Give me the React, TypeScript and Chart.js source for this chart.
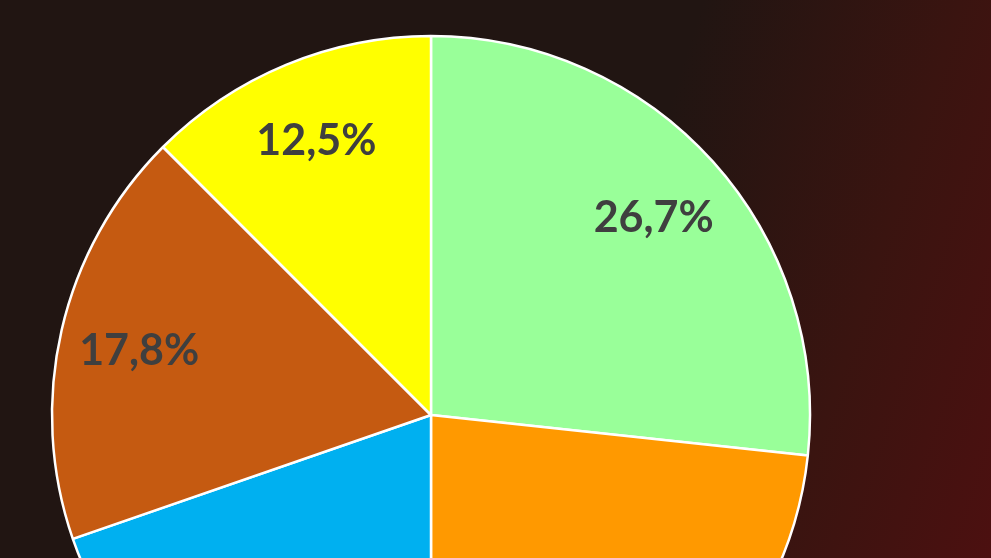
import React, { useEffect, useRef } from "react";
import { Chart, registerables, Plugin } from "chart.js";

Chart.register(...registerables);

// Share of each segment, clockwise from 12 o'clock
const segments = ["Grün", "Orange", "Blau", "Braun", "Gelb"];
const shares = [26.7, 23.3, 19.7, 17.8, 12.5];
const sliceColors = ["#99FF99", "#FF9900", "#00B0F0", "#C55A11", "#FFFF00"];

const formatShare = (v: number) => v.toFixed(1).replace(".", ",") + "%";

// Writes each slice's percentage inside the slice
const sliceLabels: Plugin<"pie"> = {
  id: "sliceLabels",
  afterDatasetsDraw(chart) {
    const { ctx } = chart;
    const meta = chart.getDatasetMeta(0);
    ctx.save();
    ctx.font = "bold 43px Lato, 'Open Sans', sans-serif";
    ctx.fillStyle = "#3F3F3F";
    ctx.textAlign = "center";
    ctx.textBaseline = "middle";
    meta.data.forEach((el: any, i: number) => {
      const { x, y, startAngle, endAngle, outerRadius } = el.getProps(
        ["x", "y", "startAngle", "endAngle", "outerRadius"],
        true
      );
      const mid = (startAngle + endAngle) / 2;
      const r = outerRadius * 0.79;
      ctx.fillText(formatShare(shares[i]), x + Math.cos(mid) * r, y + Math.sin(mid) * r + 3);
    });
    ctx.restore();
  },
};

export default function App() {
  const canvasRef = useRef<HTMLCanvasElement | null>(null);

  useEffect(() => {
    if (!canvasRef.current) return;
    const chart = new Chart(canvasRef.current, {
      type: "pie",
      data: {
        labels: segments,
        datasets: [
          {
            data: shares,
            backgroundColor: sliceColors,
            borderColor: "#FFFFFF",
            borderWidth: 2.5,
          },
        ],
      },
      options: {
        responsive: false,
        animation: false,
        radius: 379,
        layout: { padding: 0 },
        plugins: {
          legend: { display: false },
          tooltip: { enabled: false },
        },
      },
      plugins: [sliceLabels],
    });
    return () => chart.destroy();
  }, []);

  return (
    <div
      style={{
        position: "fixed",
        left: 0,
        top: 0,
        width: 991,
        height: 558,
        overflow: "hidden",
        background:
          "linear-gradient(108deg, #211512 0%, #211512 60%, #3a1410 82%, #4c1010 100%)",
      }}
    >
      <canvas
        ref={canvasRef}
        width={862}
        height={830}
        style={{ display: "block", width: 862, height: 830 }}
      />
    </div>
  );
}
